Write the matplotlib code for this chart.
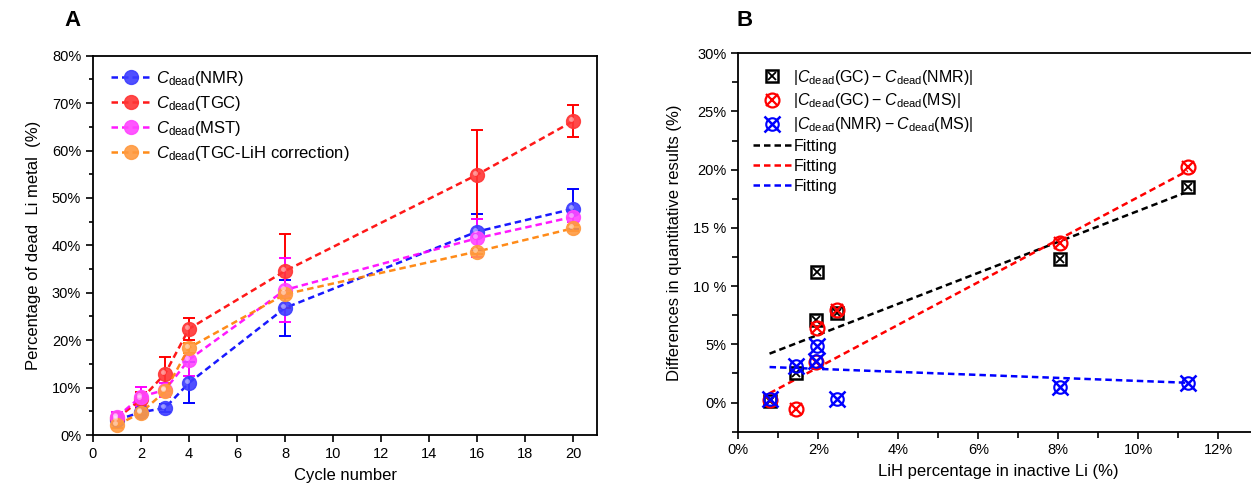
import matplotlib
matplotlib.use('Agg')
import matplotlib.pyplot as plt
import matplotlib.ticker as mticker
import matplotlib.transforms as mtransforms
from matplotlib.legend_handler import HandlerTuple
from matplotlib.lines import Line2D

plt.rcParams['font.family'] = ['Liberation Sans', 'DejaVu Sans']
plt.rcParams['mathtext.fontset'] = 'custom'
plt.rcParams['mathtext.rm'] = 'Liberation Sans'
plt.rcParams['mathtext.it'] = 'Liberation Sans:italic'

# ---- panel A data: percentage of dead Li metal vs cycle number
cycles = [1, 2, 3, 4, 8, 16, 20]
nmr = [3.2, 4.8, 5.7, 11.0, 26.8, 42.9, 47.7]
nmr_err = [0.5, 0.5, 0.8, 4.3, 5.9, 3.8, 4.2]
tgc = [3.5, 7.5, 12.9, 22.4, 34.6, 54.9, 66.2]
tgc_err = [0.8, 1.5, 3.6, 2.3, 7.8, 9.4, 3.3]
mst = [3.8, 8.1, 9.5, 15.9, 30.6, 41.5, 46.0]
mst_err = [1.1, 2.0, 1.5, 3.5, 6.7, 4.0, 1.0]
lih_corr = [2.1, 4.7, 9.2, 18.4, 29.7, 38.7, 43.6]
lih_corr_err = [0.6, 0.5, 0.8, 1.0, 0.8, 0.6, 0.6]

# ---- panel B data: differences vs LiH percentage in inactive Li
lih_pct = [0.78, 1.45, 1.93, 1.97, 2.47, 8.03, 11.23]
gc_nmr = [0.1, 2.5, 7.1, 11.2, 7.7, 12.3, 18.5]
gc_ms = [0.2, -0.57, 3.5, 6.4, 7.96, 13.73, 20.2]
nmr_ms = [0.3, 3.15, 3.58, 4.87, 0.29, 1.37, 1.72]

# fitted lines (end points)
fit_x = [0.78, 11.23]
fit_gc_nmr = [4.2, 18.1]
fit_gc_ms = [0.8, 19.9]
fit_nmr_ms = [3.05, 1.7]

C = r'$\mathit{C}_{\rm dead}$'

fig = plt.figure(figsize=(12.51, 4.88), dpi=100)

# ================= panel A =================
axA = fig.add_axes([0.0743, 0.1086, 0.4031, 0.7773])
seriesA = [
    (nmr, nmr_err, '#0000ff', '#3d3dff', C + '(NMR)'),
    (tgc, tgc_err, '#ff0000', '#ff3535', C + '(TGC)'),
    (mst, mst_err, '#ff00ff', '#ff45ff', C + '(MST)'),
    (lih_corr, lih_corr_err, '#ff7f00', '#ff9a40', C + '(TGC-LiH correction)'),
]
hl = mtransforms.offset_copy(axA.transData, fig=fig, x=-2, y=2, units='dots')
handlesA = []
for vals, err, lc, mc, lab in seriesA:
    axA.errorbar(cycles, vals, yerr=err, fmt='none', ecolor=lc, elinewidth=1.4,
                 capsize=4.5, capthick=1.4, zorder=2)
    h, = axA.plot(cycles, vals, ls=(0, (2.6, 1.6)), lw=1.8, color=lc,
                  marker='o', ms=10, mfc=mc, mec=mc, alpha=0.9, label=lab, zorder=3)
    axA.plot(cycles, vals, ls='none', marker='o', ms=3.5, mfc='white', mec='none',
             alpha=0.45, transform=hl, zorder=4)
    handlesA.append(h)

axA.set_xlim(0, 21)
axA.set_ylim(0, 80)
axA.set_xticks(range(0, 21, 2))
axA.yaxis.set_major_locator(mticker.MultipleLocator(10))
axA.yaxis.set_minor_locator(mticker.MultipleLocator(5))
axA.yaxis.set_major_formatter(mticker.FuncFormatter(lambda v, p: f'{v:.0f}%'))
axA.tick_params(which='both', direction='out', width=1.2, labelsize=10.5)
axA.tick_params(which='major', length=5)
axA.tick_params(which='minor', length=3)
for s in axA.spines.values():
    s.set_linewidth(1.3)
axA.set_xlabel('Cycle number', fontsize=12, labelpad=5)
axA.set_ylabel('Percentage of dead  Li metal  (%)', fontsize=12, labelpad=8)
axA.legend(handles=handlesA, loc='upper left', bbox_to_anchor=(0.01, 1.0),
           frameon=False, fontsize=12, handlelength=2.4, handletextpad=0.3,
           labelspacing=0.36, borderaxespad=0.4)

# ================= panel B =================
axB = fig.add_axes([0.5902, 0.1154, 0.4157, 0.7756])
axB.plot(lih_pct, gc_nmr, ls='none', marker='s', ms=8.5, mfc='white', mec='black', mew=1.8, zorder=3)
axB.plot(lih_pct, gc_nmr, ls='none', marker='x', ms=5.5, mec='black', mew=1.3, zorder=3)
axB.plot(lih_pct, gc_ms, ls='none', marker='o', ms=10, mfc='none', mec='red', mew=1.6, zorder=4)
axB.plot(lih_pct, gc_ms, ls='none', marker='x', ms=8, mec='red', mew=1.6, zorder=4)
axB.plot(lih_pct, nmr_ms, ls='none', marker='x', ms=12, mec='blue', mew=1.8, zorder=5)
axB.plot(lih_pct, nmr_ms, ls='none', marker='o', ms=9, mfc='none', mec='blue', mew=1.5, zorder=5)

dash = (0, (2.6, 1.6))
f1, = axB.plot(fit_x, fit_gc_nmr, ls=dash, lw=1.8, color='black', zorder=2)
f2, = axB.plot(fit_x, fit_gc_ms, ls=dash, lw=1.8, color='red', zorder=2)
f3, = axB.plot(fit_x, fit_nmr_ms, ls=dash, lw=1.8, color='blue', zorder=2)

axB.set_xlim(0, 13)
axB.set_ylim(-2.5, 30)
axB.set_xticks(range(0, 13, 2))
axB.set_xticklabels([f'{v}%' for v in range(0, 13, 2)])
axB.xaxis.set_minor_locator(mticker.MultipleLocator(1))
axB.set_yticks([0, 5, 10, 15, 20, 25, 30])
axB.set_yticklabels(['0%', '5%', '10 %', '15 %', '20%', '25%', '30%'])
axB.yaxis.set_minor_locator(mticker.MultipleLocator(2.5))
axB.tick_params(which='both', direction='out', width=1.2, labelsize=10.5)
axB.tick_params(which='major', length=5)
axB.tick_params(which='minor', length=4)
for s in axB.spines.values():
    s.set_linewidth(1.3)
axB.set_xlabel('LiH percentage in inactive Li (%)', fontsize=12, labelpad=5)
axB.set_ylabel('Differences in quantitative results (%)', fontsize=12, labelpad=8)

mk_black = (Line2D([], [], ls='none', marker='s', ms=8.5, mfc='white', mec='black', mew=1.8),
            Line2D([], [], ls='none', marker='x', ms=5.5, mec='black', mew=1.3))
mk_red = (Line2D([], [], ls='none', marker='o', ms=10, mfc='none', mec='red', mew=1.6),
          Line2D([], [], ls='none', marker='x', ms=8, mec='red', mew=1.6))
mk_blue = (Line2D([], [], ls='none', marker='x', ms=12, mec='blue', mew=1.8),
           Line2D([], [], ls='none', marker='o', ms=9, mfc='none', mec='blue', mew=1.5))
labelsB = ['|' + C + '(GC)\u2009\u2212\u2009' + C + '(NMR)|',
           '|' + C + '(GC)\u2009\u2212\u2009' + C + '(MS)|',
           '|' + C + '(NMR)\u2009\u2212\u2009' + C + '(MS)|',
           'Fitting', 'Fitting', 'Fitting']
axB.legend([mk_black, mk_red, mk_blue, f1, f2, f3], labelsB,
           handler_map={tuple: HandlerTuple(ndivide=1, pad=0)},
           loc='upper left', bbox_to_anchor=(0.0, 1.0), frameon=False,
           fontsize=11.5, handlelength=2.4, handletextpad=0.15,
           labelspacing=0.3, borderaxespad=0.5)

fig.text(0.0576, 0.958, 'A', fontsize=16, fontweight='bold', ha='center', va='center')
fig.text(0.5955, 0.958, 'B', fontsize=16, fontweight='bold', ha='center', va='center')

fig.savefig('out.png', dpi=100)
